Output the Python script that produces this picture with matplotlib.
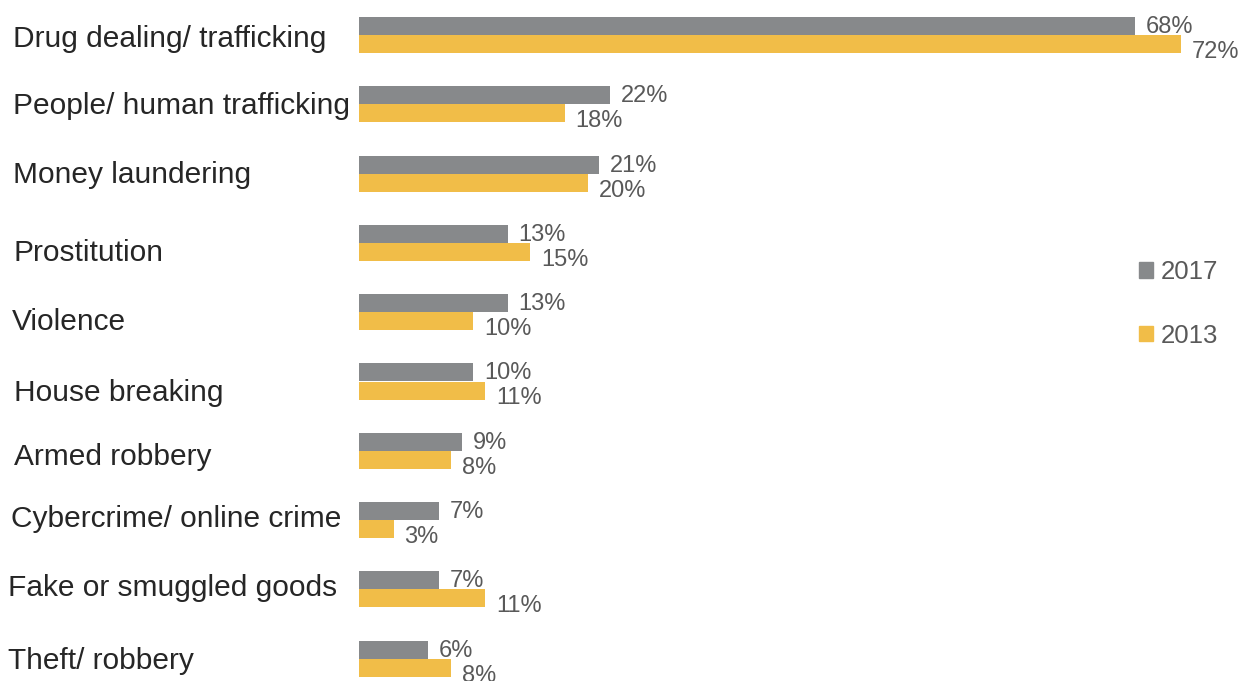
import matplotlib
matplotlib.use("Agg")
import matplotlib.pyplot as plt
import matplotlib.transforms as mtransforms
from matplotlib.patches import Patch

categories = [
    "Drug dealing/ trafficking",
    "People/ human trafficking",
    "Money laundering",
    "Prostitution",
    "Violence",
    "House breaking",
    "Armed robbery",
    "Cybercrime/ online crime",
    "Fake or smuggled goods",
    "Theft/ robbery",
]
pct_2017 = [68, 22, 21, 13, 13, 10, 9, 7, 7, 6]
pct_2013 = [72, 18, 20, 15, 10, 11, 8, 3, 11, 8]

GREY = "#87898b"
GOLD = "#f1bd48"
VALUE_TXT = "#595959"
LABEL_TXT = "#262626"

plt.rcParams["font.family"] = ["Liberation Sans", "DejaVu Sans"]

W, H = 1245, 681
fig = plt.figure(figsize=(W / 100, H / 100), dpi=100)

# pixel layout of the plotting area
x0 = 359.3          # where bars start
px_per_pct = 11.41
first_row = 35.0    # centre of the first category, px from top
row_px = 69.3       # distance between categories
bar_px = 18.0

ax = fig.add_axes([x0 / W, 0, 1 - x0 / W, 1])
ax.set_xlim(0, (W - x0) / px_per_pct)
ax.set_ylim((H - first_row) / row_px, -first_row / row_px)
ax.axis("off")

h = bar_px / row_px
rows = list(range(len(categories)))
y17 = [r - h / 2 for r in rows]
y13 = [r + h / 2 for r in rows]
ax.barh(y17, pct_2017, height=h, color=GREY, linewidth=0)
ax.barh(y13, pct_2013, height=h, color=GOLD, linewidth=0)

for y, v in zip(y17, pct_2017):
    ax.annotate(f"{v}%", xy=(v, y), xytext=(11, -7), textcoords="offset pixels",
                ha="left", va="baseline", fontsize=17, color=VALUE_TXT,
                annotation_clip=False)
for y, v in zip(y13, pct_2013):
    ax.annotate(f"{v}%", xy=(v, y), xytext=(11, -14), textcoords="offset pixels",
                ha="left", va="baseline", fontsize=17, color=VALUE_TXT,
                annotation_clip=False)

# category names sit left of the bars, slightly uneven like the original layout
label_x = [13, 13, 13, 14, 12, 14, 14, 11, 8, 8]
label_dy = [1, -1, -1, 7, 7, 9, 4, -4, -4, 0]
trans = mtransforms.blended_transform_factory(fig.transFigure, ax.transData)
for r, name, lx, dy in zip(rows, categories, label_x, label_dy):
    ax.text(lx / W, r + (dy + 10.7) / row_px, name, transform=trans,
            ha="left", va="baseline", fontsize=21.5, color=LABEL_TXT,
            clip_on=False)

handles = [Patch(color=GREY, label="2017"), Patch(color=GOLD, label="2013")]
leg = fig.legend(handles=handles, loc="upper left",
                 bbox_to_anchor=(1139 / W, 1 - 260 / H),
                 frameon=False, fontsize=18.5, borderpad=0, borderaxespad=0,
                 handlelength=0.55, handleheight=0.55, handletextpad=0.3,
                 labelspacing=1.55)
for t in leg.get_texts():
    t.set_color(VALUE_TXT)

fig.savefig("out.png", dpi=100)
